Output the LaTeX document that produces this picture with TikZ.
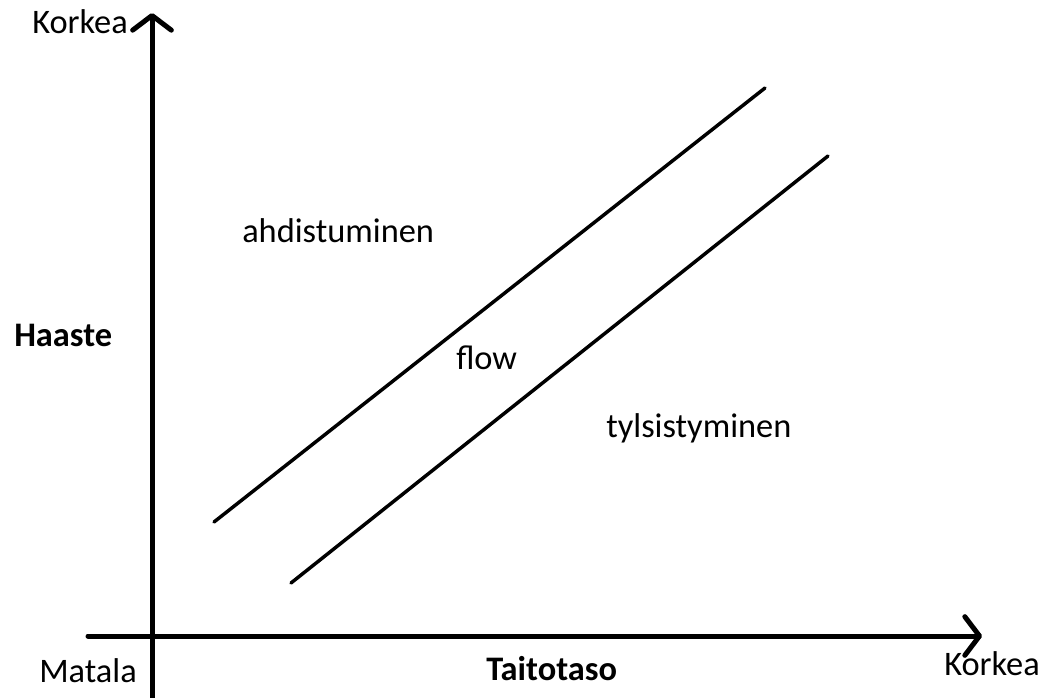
\documentclass[tikz,border=0pt]{standalone}
\usepackage{fontspec}
\setmainfont{Carlito}
\usetikzlibrary{arrows.meta}
\begin{document}
\begin{tikzpicture}[
        x=0.75pt, y=-0.75pt,
        axis/.style={line width=3.75pt, line cap=round, -{Straight Barb[length=11pt, width=29pt, round]}},
        band/.style={line width=2.6pt, line cap=round},
        every node/.style={inner sep=0pt, font=\fontsize{25.8}{30}\selectfont, anchor=base west}
    ]
        \useasboundingbox (0,0) rectangle (1046,698);
        % axes
        \coordinate (origo) at (152,636);
        \coordinate (ybot) at (152,700);
        \coordinate (ytop) at (152,13);
        \coordinate (xleft) at (88,636);
        \coordinate (xright) at (982,636);
        \draw[axis] (ybot) -- (ytop);
        \draw[axis] (xleft) -- (xright);
        % flow channel
        \coordinate (ylaA) at (214,522);
        \coordinate (ylaB) at (765,88);
        \coordinate (alaA) at (291,583);
        \coordinate (alaB) at (828,156);
        \draw[band] (ylaA) -- (ylaB);
        \draw[band] (alaA) -- (alaB);
        % labels
        \node (korkeaY) at (32,34) {Korkea};
        \node (haaste) at (14,347) {\bfseries Haaste};
        \node (matala) at (39,682) {Matala};
        \node (taitotaso) at (486,680) {\bfseries Taitotaso};
        \node (korkeaX) at (944,675) {Korkea};
        \node (ahdistus) at (242,243) {ahdistuminen};
        \node (flow) at (456,370) {flow};
        \node (tylsyys) at (606,437) {tylsistyminen};
\end{tikzpicture}
\end{document}
